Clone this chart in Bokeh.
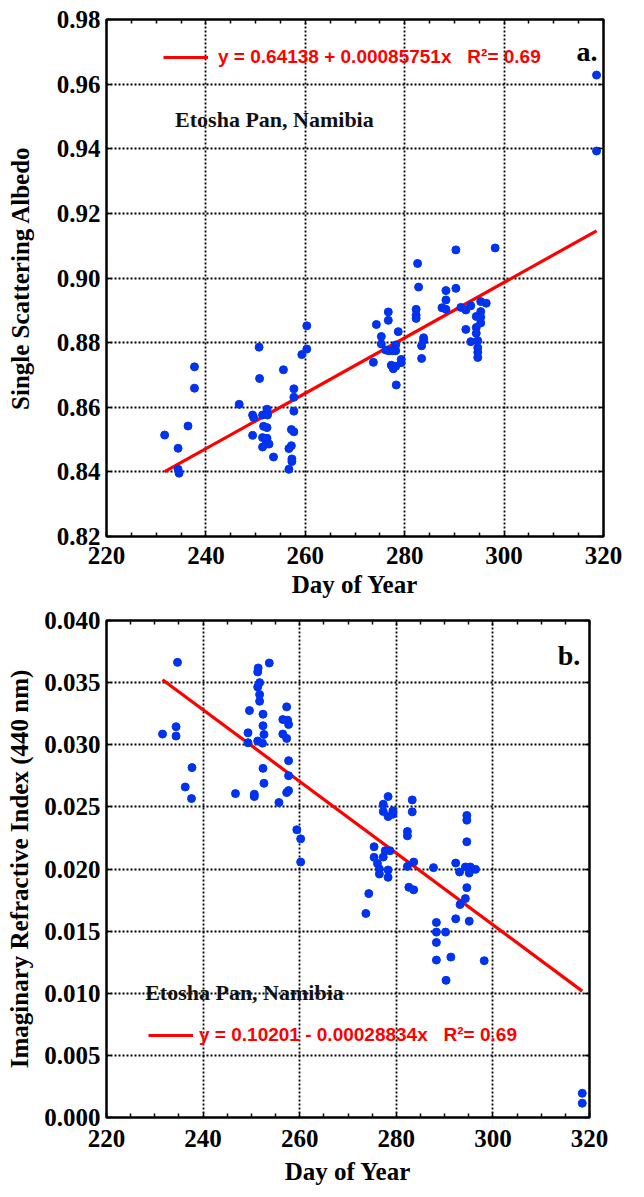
from bokeh.plotting import figure
from bokeh.models import (Range1d, FixedTicker, LinearAxis, Label, Legend,
                          LegendItem, PrintfTickFormatter)
from bokeh.layouts import column
from bokeh.core.properties import value
from bokeh.embed import file_html
from bokeh.resources import INLINE

# ---------------- data: panel a (single scattering albedo) ----------------
days_a = [231.7, 234.4, 234.4, 234.6, 236.4, 237.7, 237.7, 246.7, 249.4, 249.6,
          249.4, 250.7, 250.8, 251.4, 251.6, 252.3, 251.4, 252.3, 251.4, 252.1,
          252.7, 252.3, 252.4, 253.6, 255.6, 257.7, 257.7, 257.7, 257.2, 257.7,
          257.2, 256.7, 257.3, 257.3, 256.7, 259.3, 260.3, 260.3, 273.7, 274.3,
          275.3, 275.3, 276.7, 276.7, 276.2, 276.8, 277.5, 278.2, 278.2, 277.3,
          277.7, 278.2, 278.3, 278.7, 279.3, 279.3, 282.3, 282.3, 282.3, 282.8,
          283.4, 283.8, 283.8, 283.4, 287.5, 288.3, 288.3, 288.3, 290.3, 291.3,
          292.3, 293.3, 292.3, 293.3, 294.4, 294.4, 294.4, 294.7, 294.7, 294.7,
          294.7, 295.3, 295.3, 295.3, 295.3, 296.4, 282.6, 290.3, 298.2, 318.6,
          318.6]
ssa = [0.8514, 0.8473, 0.8408, 0.8396, 0.8542, 0.8725, 0.8659, 0.8609, 0.8576, 0.8568,
       0.8513, 0.8786, 0.8689, 0.8576, 0.8541, 0.8537, 0.8506, 0.8504, 0.8477, 0.8486,
       0.8486, 0.8594, 0.8576, 0.8446, 0.8716, 0.8657, 0.8631, 0.8588, 0.8531, 0.8524,
       0.8481, 0.8472, 0.8440, 0.8432, 0.8408, 0.8763, 0.8780, 0.8852, 0.8739, 0.8856,
       0.8819, 0.8796, 0.8895, 0.8869, 0.8777, 0.8775, 0.8775, 0.8793, 0.8775, 0.8730,
       0.8719, 0.8727, 0.8669, 0.8834, 0.8748, 0.8738, 0.8903, 0.8885, 0.8875, 0.8972,
       0.8790, 0.8815, 0.8807, 0.8751, 0.8908, 0.8903, 0.8932, 0.8961, 0.8968, 0.8909,
       0.8901, 0.8914, 0.8841, 0.8803, 0.8881, 0.8847, 0.8829, 0.8806, 0.8784, 0.8770,
       0.8754, 0.8896, 0.8879, 0.8861, 0.8927, 0.8922, 0.9045, 0.9087, 0.9093, 0.9628,
       0.9393]
fit_a = (0.64138, 0.00085751)

# ---------------- data: panel b (imaginary refractive index 440 nm) ----------------
days_b = [234.7, 231.6, 234.4, 234.4, 237.7, 236.3, 237.6, 246.7, 250.6, 250.6,
          249.3, 249.3, 249.6, 251.4, 251.3, 251.7, 251.3, 251.7, 251.7, 252.4,
          252.4, 252.6, 251.3, 252.3, 252.4, 252.6, 253.7, 255.7, 257.3, 256.5,
          257.5, 257.7, 256.5, 257.3, 257.7, 257.7, 257.3, 257.7, 259.4, 260.2,
          260.2, 278.3, 277.3, 277.3, 278.3, 279.3, 279.3, 283.3, 283.3, 282.3,
          282.3, 275.4, 275.4, 276.1, 276.5, 276.5, 277.3, 277.7, 278.7, 278.3,
          278.3, 283.6, 282.3, 287.7, 292.3, 293.1, 294.6, 294.6, 294.6, 294.3,
          295.3, 295.1, 296.4, 294.6, 294.3, 282.6, 283.6, 274.3, 273.7, 288.3,
          288.3, 290.2, 288.3, 288.3, 291.3, 290.3, 292.3, 293.2, 295.1, 298.2,
          318.5, 318.5]
k440 = [0.03663, 0.03086, 0.03145, 0.03070, 0.02816, 0.02660, 0.02567, 0.02607, 0.02602, 0.02583,
        0.03096, 0.03016, 0.03275, 0.03618, 0.03586, 0.03500, 0.03465, 0.03404, 0.03350, 0.03246,
        0.03153, 0.03083, 0.03030, 0.03013, 0.02810, 0.02690, 0.03658, 0.02535, 0.03305, 0.03203,
        0.03198, 0.03163, 0.03086, 0.03051, 0.02872, 0.02751, 0.02615, 0.02631, 0.02316, 0.02243,
        0.02056, 0.02583, 0.02521, 0.02463, 0.02422, 0.02468, 0.02441, 0.02556, 0.02460, 0.02302,
        0.02267, 0.02179, 0.02094, 0.02045, 0.02000, 0.01960, 0.02096, 0.02147, 0.02147, 0.01992,
        0.01933, 0.02056, 0.02021, 0.02011, 0.02048, 0.01976, 0.02431, 0.02393, 0.02219, 0.02016,
        0.02016, 0.01968, 0.01997, 0.01850, 0.01762, 0.01853, 0.01832, 0.01802, 0.01642, 0.01570,
        0.01492, 0.01492, 0.01409, 0.01267, 0.01291, 0.01104, 0.01599, 0.01714, 0.01580, 0.01262,
        0.00195, 0.00115]
fit_b = (0.10201, -0.00028834)

x_ticks = [220, 240, 260, 280, 300, 320]
x_minor = [v for v in range(220, 321, 5) if v % 20]
ya_ticks = [0.82, 0.84, 0.86, 0.88, 0.90, 0.92, 0.94, 0.96, 0.98]
yb_ticks = [0.000, 0.005, 0.010, 0.015, 0.020, 0.025, 0.030, 0.035, 0.040]

label_a = "y = 0.64138 + 0.00085751x\u00a0\u00a0\u00a0R\u00b2= 0.69"
label_b = "y = 0.10201 - 0.00028834x\u00a0\u00a0\u00a0R\u00b2= 0.69"
site = "Etosha Pan, Namibia"
x_title = "Day of Year"

SERIF = "Liberation Serif"
SANS = "Liberation Sans"
BLUE = "#0033EE"


def style_axis(ax, ticker, fmt=None, show_labels=True, minor=True):
    ax.ticker = ticker
    if fmt is not None:
        ax.formatter = PrintfTickFormatter(format=fmt)
    ax.axis_line_color = None
    ax.major_tick_in = 5
    ax.major_tick_out = 0
    ax.major_tick_line_width = 1.5
    ax.minor_tick_in = 4 if minor else 0
    ax.minor_tick_out = 0
    ax.minor_tick_line_width = 1.5
    ax.major_label_text_font = SERIF
    ax.major_label_text_font_style = "bold"
    ax.axis_label_text_font = SERIF
    ax.axis_label_text_font_style = "bold"
    ax.axis_label_text_font_size = "25px"
    ax.axis_label_text_color = "black"
    if show_labels:
        ax.major_label_text_font_size = "25px"
        ax.major_label_text_color = "black"
    else:
        ax.major_label_text_font_size = "0px"
        ax.major_label_text_color = None
        ax.major_label_standoff = 0


def panel(days, vals, fit, yr, yticks, yfmt, ytitle, leg_text, leg_loc, leg_standoff,
          site_xy, tag, tag_xy, width, height, borders, y_title_standoff,
          x_label_standoff, x_title_standoff):
    p = figure(width=width, height=height, output_backend="svg", toolbar_location=None,
               x_range=Range1d(220, 320), y_range=Range1d(*yr),
               min_border_left=borders[0], min_border_right=borders[1],
               min_border_top=borders[2], min_border_bottom=borders[3])
    p.background_fill_color = "white"
    p.border_fill_color = "white"
    p.outline_line_color = "black"
    p.outline_line_width = 2.5

    xt = FixedTicker(ticks=x_ticks, minor_ticks=x_minor)
    yt = FixedTicker(ticks=yticks, minor_ticks=[])

    style_axis(p.xaxis[0], xt, "%d")
    p.xaxis[0].axis_label = x_title
    p.xaxis[0].major_label_standoff = x_label_standoff
    p.xaxis[0].axis_label_standoff = x_title_standoff

    style_axis(p.yaxis[0], yt, yfmt, minor=False)
    p.yaxis[0].axis_label = ytitle
    p.yaxis[0].major_label_standoff = 6
    p.yaxis[0].axis_label_standoff = y_title_standoff

    top = LinearAxis()
    style_axis(top, xt, show_labels=False)
    p.add_layout(top, "above")
    right = LinearAxis()
    style_axis(right, yt, show_labels=False, minor=False)
    p.add_layout(right, "right")

    p.xgrid.ticker = xt
    p.ygrid.ticker = yt
    p.grid.grid_line_color = "black"
    p.grid.grid_line_dash = "2 2"
    p.grid.grid_line_width = 1.8

    # regression line across the data range
    x0, x1 = min(days), max(days)
    fit_r = p.line([x0, x1], [fit[0] + fit[1] * x0, fit[0] + fit[1] * x1],
                   line_color="red", line_width=3.2)
    p.scatter(days, vals, size=8, fill_color=BLUE, line_color=BLUE)

    leg = Legend(items=[LegendItem(label=value(leg_text), renderers=[fit_r])],
                 location=leg_loc, glyph_width=45, glyph_height=20,
                 label_standoff=leg_standoff, padding=0, margin=0, spacing=0,
                 background_fill_alpha=0, border_line_alpha=0,
                 label_text_font=SANS, label_text_font_style="bold",
                 label_text_font_size="19px", label_text_color="red")
    p.add_layout(leg)

    p.add_layout(Label(x=site_xy[0], y=site_xy[1], text=site, text_font=SERIF,
                       text_font_style="bold", text_font_size="22px",
                       text_color="#111111", text_baseline="alphabetic"))
    p.add_layout(Label(x=tag_xy[0], y=tag_xy[1], text=tag, text_font=SERIF,
                       text_font_style="bold", text_font_size="28px",
                       text_color="black", text_align="right",
                       text_baseline="alphabetic"))
    return p


pa = panel(days_a, ssa, fit_a, (0.82, 0.98), ya_ticks, "%.2f",
           "Single Scattering Albedo", label_a, (57, 468), 10,
           (233.8, 0.949), "a.", (318.8, 0.970),
           644, 606, (106, 41, 19, 70), 20, 10, 4)
pb = panel(days_b, k440, fit_b, (0.0, 0.040), yb_ticks, "%.3f",
           "Imaginary Refractive Index (440 nm)", label_b, (42, 71), 6,
           (228.0, 0.0101), "b.", (318.1, 0.0372),
           630, 591, (106, 41, 14, 80), 8, 12, 8)

layout = column(pa, pb, spacing=0)
open("out.html", "w").write(file_html(layout, INLINE))
